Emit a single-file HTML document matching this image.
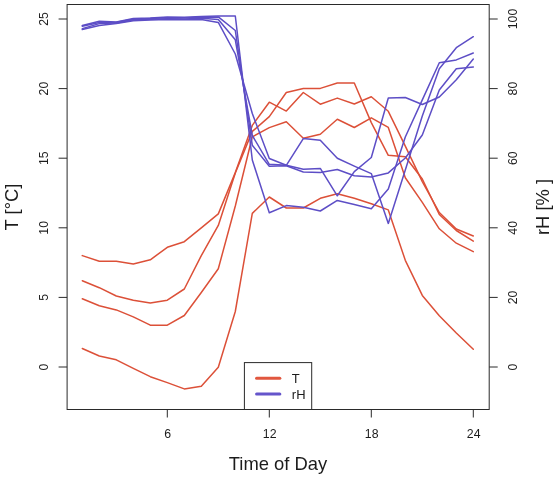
<!DOCTYPE html>
<html><head><meta charset="utf-8"><title>Time of Day</title>
<style>html,body{margin:0;padding:0;background:#fff}svg{display:block;will-change:transform}text{font-family:"Liberation Sans",Arial,Helvetica,sans-serif;fill:#1c1c1c}</style></head><body>
<svg width="556" height="477" viewBox="0 0 556 477">
<rect width="556" height="477" fill="#fff"/>
<polyline points="82.3,255.6 99.3,261.2 116.3,261.2 133.3,264.0 150.3,259.8 167.3,247.3 184.3,241.7 201.3,227.8 218.3,213.9 235.3,172.6 252.3,125.4 269.3,102.2 286.3,111.1 303.3,92.5 320.3,104.2 337.3,98.1 354.3,104.0 371.3,96.7 388.3,111.3 405.3,146.2 422.3,181.6 439.3,212.5 456.3,229.0 473.3,236.0" fill="none" stroke="#DC5038" stroke-width="1.5" stroke-linejoin="round" stroke-linecap="round"/>
<polyline points="82.3,280.7 99.3,287.7 116.3,296.0 133.3,300.2 150.3,303.0 167.3,300.2 184.3,289.0 201.3,255.6 218.3,225.4 235.3,173.0 252.3,131.4 269.3,116.6 286.3,92.5 303.3,88.4 320.3,88.4 337.3,83.0 354.3,83.0 371.3,122.6 388.3,155.3 405.3,156.7 422.3,179.0 439.3,214.5 456.3,230.5 473.3,241.1" fill="none" stroke="#DC5038" stroke-width="1.5" stroke-linejoin="round" stroke-linecap="round"/>
<polyline points="82.3,298.8 99.3,305.8 116.3,309.9 133.3,316.9 150.3,325.2 167.3,325.2 184.3,315.5 201.3,292.5 218.3,268.7 235.3,206.0 252.3,136.8 269.3,127.6 286.3,121.8 303.3,138.3 320.3,134.2 337.3,119.3 354.3,127.5 371.3,117.8 388.3,127.4 405.3,177.7 422.3,202.4 439.3,228.8 456.3,243.2 473.3,251.6" fill="none" stroke="#DC5038" stroke-width="1.5" stroke-linejoin="round" stroke-linecap="round"/>
<polyline points="82.3,348.5 99.3,356.0 116.3,359.8 133.3,368.3 150.3,376.7 167.3,382.6 184.3,388.9 201.3,386.3 218.3,367.3 235.3,311.5 252.3,213.4 269.3,197.0 286.3,208.0 303.3,208.0 320.3,198.3 337.3,193.7 354.3,198.3 371.3,203.8 388.3,209.9 405.3,260.3 422.3,295.4 439.3,315.7 456.3,333.0 473.3,349.2" fill="none" stroke="#DC5038" stroke-width="1.5" stroke-linejoin="round" stroke-linecap="round"/>
<polyline points="82.3,25.6 99.3,21.3 116.3,21.9 133.3,18.5 150.3,18.0 167.3,17.0 184.3,17.2 201.3,16.6 218.3,16.0 235.3,16.0 252.3,160.0 269.3,212.8 286.3,205.6 303.3,207.2 320.3,211.0 337.3,200.4 354.3,204.4 371.3,208.7 388.3,188.9 405.3,137.0 422.3,99.9 439.3,62.8 456.3,59.9 473.3,53.0" fill="none" stroke="#5D4EC6" stroke-width="1.5" stroke-linejoin="round" stroke-linecap="round"/>
<polyline points="82.3,26.2 99.3,22.6 116.3,22.3 133.3,19.3 150.3,18.6 167.3,17.8 184.3,18.0 201.3,17.3 218.3,16.9 235.3,30.5 252.3,145.3 269.3,166.3 286.3,165.8 303.3,172.0 320.3,172.4 337.3,169.5 354.3,175.8 371.3,177.0 388.3,172.9 405.3,158.0 422.3,135.0 439.3,90.0 456.3,68.8 473.3,66.9" fill="none" stroke="#5D4EC6" stroke-width="1.5" stroke-linejoin="round" stroke-linecap="round"/>
<polyline points="82.3,28.6 99.3,23.6 116.3,22.9 133.3,20.0 150.3,19.3 167.3,18.7 184.3,19.0 201.3,18.3 218.3,19.6 235.3,39.8 252.3,135.5 269.3,164.3 286.3,165.3 303.3,138.6 320.3,140.3 337.3,158.3 354.3,166.1 371.3,173.6 388.3,223.4 405.3,170.0 422.3,116.1 439.3,68.8 456.3,47.7 473.3,36.7" fill="none" stroke="#5D4EC6" stroke-width="1.5" stroke-linejoin="round" stroke-linecap="round"/>
<polyline points="82.3,29.6 99.3,25.5 116.3,23.4 133.3,20.7 150.3,20.0 167.3,19.6 184.3,19.8 201.3,19.4 218.3,22.4 235.3,54.0 252.3,113.5 269.3,158.5 286.3,165.3 303.3,169.3 320.3,168.4 337.3,195.8 354.3,171.6 371.3,157.5 388.3,98.0 405.3,97.5 422.3,104.5 439.3,97.0 456.3,79.8 473.3,59.0" fill="none" stroke="#5D4EC6" stroke-width="1.5" stroke-linejoin="round" stroke-linecap="round"/>
<rect x="244.4" y="362.6" width="67.3" height="46.9" fill="#fff" stroke="#2a2a2a" stroke-width="1"/>
<line x1="256.6" y1="378.3" x2="279.8" y2="378.3" stroke="#E1573F" stroke-width="3.1" stroke-linecap="round"/>
<line x1="256.6" y1="394.0" x2="279.8" y2="394.0" stroke="#6555CB" stroke-width="3.1" stroke-linecap="round"/>
<text x="291.8" y="382.8" font-size="13">T</text>
<text x="291.8" y="398.5" font-size="13">rH</text>
<rect x="67.1" y="4.5" width="422.1" height="405.0" fill="none" stroke="#2a2a2a" stroke-width="1"/>
<path d="M167.3 409.5V417.5M269.3 409.5V417.5M371.3 409.5V417.5M473.3 409.5V417.5M67.1 367.0H58.6M489.2 367.0H497.7M67.1 297.4H58.6M489.2 297.4H497.7M67.1 227.8H58.6M489.2 227.8H497.7M67.1 158.2H58.6M489.2 158.2H497.7M67.1 88.6H58.6M489.2 88.6H497.7M67.1 19.0H58.6M489.2 19.0H497.7" stroke="#2a2a2a" stroke-width="1" fill="none"/>
<text x="167.7" y="438.4" font-size="12.3" text-anchor="middle">6</text>
<text x="269.7" y="438.4" font-size="12.3" text-anchor="middle">12</text>
<text x="371.7" y="438.4" font-size="12.3" text-anchor="middle">18</text>
<text x="473.7" y="438.4" font-size="12.3" text-anchor="middle">24</text>
<text transform="translate(47.5 367.0) rotate(-90)" font-size="12.3" text-anchor="middle">0</text>
<text transform="translate(517 367.0) rotate(-90)" font-size="12.3" text-anchor="middle">0</text>
<text transform="translate(47.5 297.4) rotate(-90)" font-size="12.3" text-anchor="middle">5</text>
<text transform="translate(517 297.4) rotate(-90)" font-size="12.3" text-anchor="middle">20</text>
<text transform="translate(47.5 227.8) rotate(-90)" font-size="12.3" text-anchor="middle">10</text>
<text transform="translate(517 227.8) rotate(-90)" font-size="12.3" text-anchor="middle">40</text>
<text transform="translate(47.5 158.2) rotate(-90)" font-size="12.3" text-anchor="middle">15</text>
<text transform="translate(517 158.2) rotate(-90)" font-size="12.3" text-anchor="middle">60</text>
<text transform="translate(47.5 88.6) rotate(-90)" font-size="12.3" text-anchor="middle">20</text>
<text transform="translate(517 88.6) rotate(-90)" font-size="12.3" text-anchor="middle">80</text>
<text transform="translate(47.5 19.0) rotate(-90)" font-size="12.3" text-anchor="middle">25</text>
<text transform="translate(517 19.0) rotate(-90)" font-size="12.3" text-anchor="middle">100</text>
<text x="278" y="469.7" font-size="18.4" text-anchor="middle">Time of Day</text>
<text transform="translate(17.6 207) rotate(-90)" font-size="18.4" text-anchor="middle">T [°C]</text>
<text transform="translate(549.3 207) rotate(-90)" font-size="18.4" text-anchor="middle" xml:space="preserve">rH [% ]</text>
</svg></body></html>
